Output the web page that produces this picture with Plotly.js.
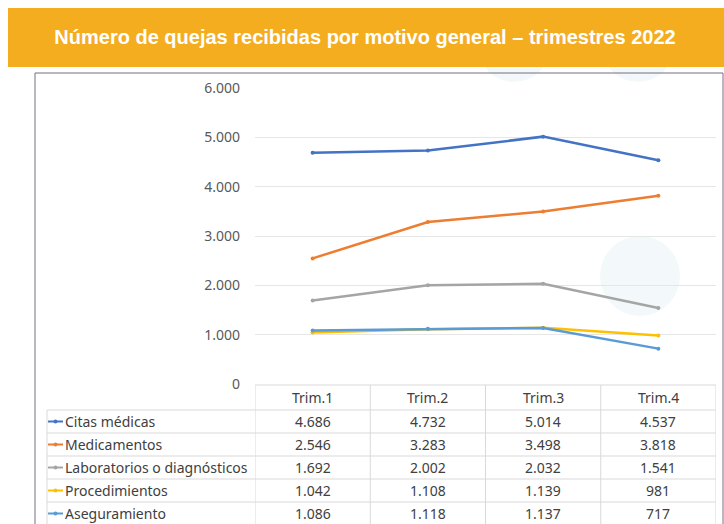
<!DOCTYPE html>
<html>
<head>
<meta charset="utf-8">
<script src="https://cdn.plot.ly/plotly-3.0.1.min.js"></script>
<style>html,body{margin:0;padding:0;background:#fff;}#chart{width:724px;height:524px;}</style>
</head>
<body>
<div id="chart"></div>
<script>
// ---- Data ----
const trimestres = ["Trim.1", "Trim.2", "Trim.3", "Trim.4"];
const seriesNames = ["Citas médicas", "Medicamentos", "Laboratorios o diagnósticos", "Procedimientos", "Aseguramiento"];
const citasMedicas = [4686, 4732, 5014, 4537];
const medicamentos = [2546, 3283, 3498, 3818];
const laboratorios = [1692, 2002, 2032, 1541];
const procedimientos = [1042, 1108, 1139, 981];
const aseguramiento = [1086, 1118, 1137, 717];
const seriesValues = [citasMedicas, medicamentos, laboratorios, procedimientos, aseguramiento];
const seriesColors = ["#4472C4", "#ED7D31", "#A5A5A5", "#FFC000", "#5B9BD5"];
const titleText = "Número de quejas recibidas por motivo general – trimestres 2022";

// ---- Layout helpers (pixel -> paper) ----
const W = 724, H = 524;
const px = x => x / W;
const py = y => 1 - y / H;
const fmt = n => String(n).replace(/\B(?=(\d{3})+(?!\d))/g, ".");

const FONT = "Noto Sans, Open Sans, sans-serif";
const textColor = "#404040";
const tableLine = "#D9D9D9";

const traces = seriesNames.map((name, i) => ({
  type: "scatter",
  mode: "lines+markers",
  name: name,
  x: trimestres,
  y: seriesValues[i],
  line: {color: seriesColors[i], width: 2.5},
  marker: {color: seriesColors[i], size: 4},
  hoverinfo: "skip"
}));

// table geometry
const headerTop = 385, headerCenter = 397;
const rowTop0 = 410, rowH = 23;
const rowCenters = seriesNames.map((_, i) => rowTop0 + rowH * i + rowH / 2);
const tableBottom = rowTop0 + rowH * seriesNames.length;

const shapes = [];
// decorative faint circles
[[514, 46, 36], [638, 46, 36], [640, 276, 40]].forEach(c => {
  shapes.push({type: "circle", xref: "paper", yref: "paper", layer: "below",
    x0: px(c[0] - c[2]), x1: px(c[0] + c[2]), y0: py(c[1] + c[2]), y1: py(c[1] - c[2]),
    fillcolor: "#F3F9FA", line: {width: 0}});
});
// orange banner
shapes.push({type: "rect", xref: "paper", yref: "paper", layer: "below",
  x0: px(8), x1: px(730), y0: py(67), y1: py(8), fillcolor: "#F5AD20", line: {width: 0}});
// chart frame
shapes.push({type: "rect", xref: "paper", yref: "paper", layer: "above",
  x0: px(35), x1: px(723), y0: py(540), y1: py(73), line: {color: "#776C7E", width: 1}});
// table horizontal lines
shapes.push({type: "line", xref: "x", yref: "paper", x0: -0.5, x1: 3.5, y0: py(headerTop), y1: py(headerTop), line: {color: tableLine, width: 1}});
for (let i = 0; i <= seriesNames.length; i++) {
  const y = rowTop0 + rowH * i;
  shapes.push({type: "line", xref: "paper", yref: "paper", x0: px(47), x1: px(716), y0: py(y), y1: py(y), line: {color: tableLine, width: 1}});
}
// table vertical lines
for (let k = 0; k <= trimestres.length; k++) {
  shapes.push({type: "line", xref: "x", yref: "paper", x0: k - 0.5, x1: k - 0.5, y0: py(headerTop), y1: py(tableBottom), line: {color: tableLine, width: 1}});
}
shapes.push({type: "line", xref: "paper", yref: "paper", x0: px(47), x1: px(47), y0: py(rowTop0), y1: py(tableBottom), line: {color: tableLine, width: 1}});
// legend keys in table
seriesNames.forEach((_, i) => {
  const yc = rowCenters[i];
  shapes.push({type: "line", xref: "paper", yref: "paper", x0: px(48), x1: px(63), y0: py(yc), y1: py(yc), line: {color: seriesColors[i], width: 2}});
  shapes.push({type: "circle", xref: "paper", yref: "paper", x0: px(53.5), x1: px(57.5), y0: py(yc + 2), y1: py(yc - 2), fillcolor: seriesColors[i], line: {width: 0}});
});

const annotations = [];
trimestres.forEach((t, k) => {
  annotations.push({xref: "x", yref: "paper", x: t, y: py(headerCenter), text: t, showarrow: false,
    xanchor: "center", yanchor: "middle", font: {family: FONT, size: 14, color: textColor}});
});
seriesNames.forEach((name, i) => {
  annotations.push({xref: "paper", yref: "paper", x: px(63), y: py(rowCenters[i]), text: name, showarrow: false,
    xanchor: "left", yanchor: "middle", font: {family: FONT, size: 14, color: textColor}});
  trimestres.forEach((t, k) => {
    annotations.push({xref: "x", yref: "paper", x: t, y: py(rowCenters[i]), text: fmt(seriesValues[i][k]), showarrow: false,
      xanchor: "center", yanchor: "middle", font: {family: FONT, size: 14, color: textColor}});
  });
});

const layout = {
  width: W, height: H,
  margin: {l: 0, r: 0, t: 0, b: 0},
  paper_bgcolor: "#FFFFFF",
  plot_bgcolor: "rgba(0,0,0,0)",
  showlegend: false,
  separators: ",.",
  title: {text: titleText, x: px(365), xanchor: "center", y: py(37), yanchor: "middle", yref: "paper",
    font: {family: "Liberation Sans, Arial, sans-serif", size: 20, color: "#FFFFFF", weight: "bold"}},
  xaxis: {
    domain: [px(255), px(716)], type: "category", range: [-0.5, 3.5],
    showticklabels: false, showgrid: false, zeroline: false, showline: false, fixedrange: true
  },
  yaxis: {
    domain: [py(384), py(88)], range: [0, 6000], dtick: 1000, tick0: 0,
    tickformat: ",d", showgrid: true, gridcolor: "#E6E6E6", gridwidth: 1,
    zeroline: false, showline: false, ticks: "", ticklabelstandoff: 14,
    tickfont: {family: FONT, size: 14, color: "#595959"}, fixedrange: true
  },
  shapes: shapes,
  annotations: annotations
};

Plotly.newPlot("chart", traces, layout, {displayModeBar: false, staticPlot: true});
</script>
</body>
</html>
